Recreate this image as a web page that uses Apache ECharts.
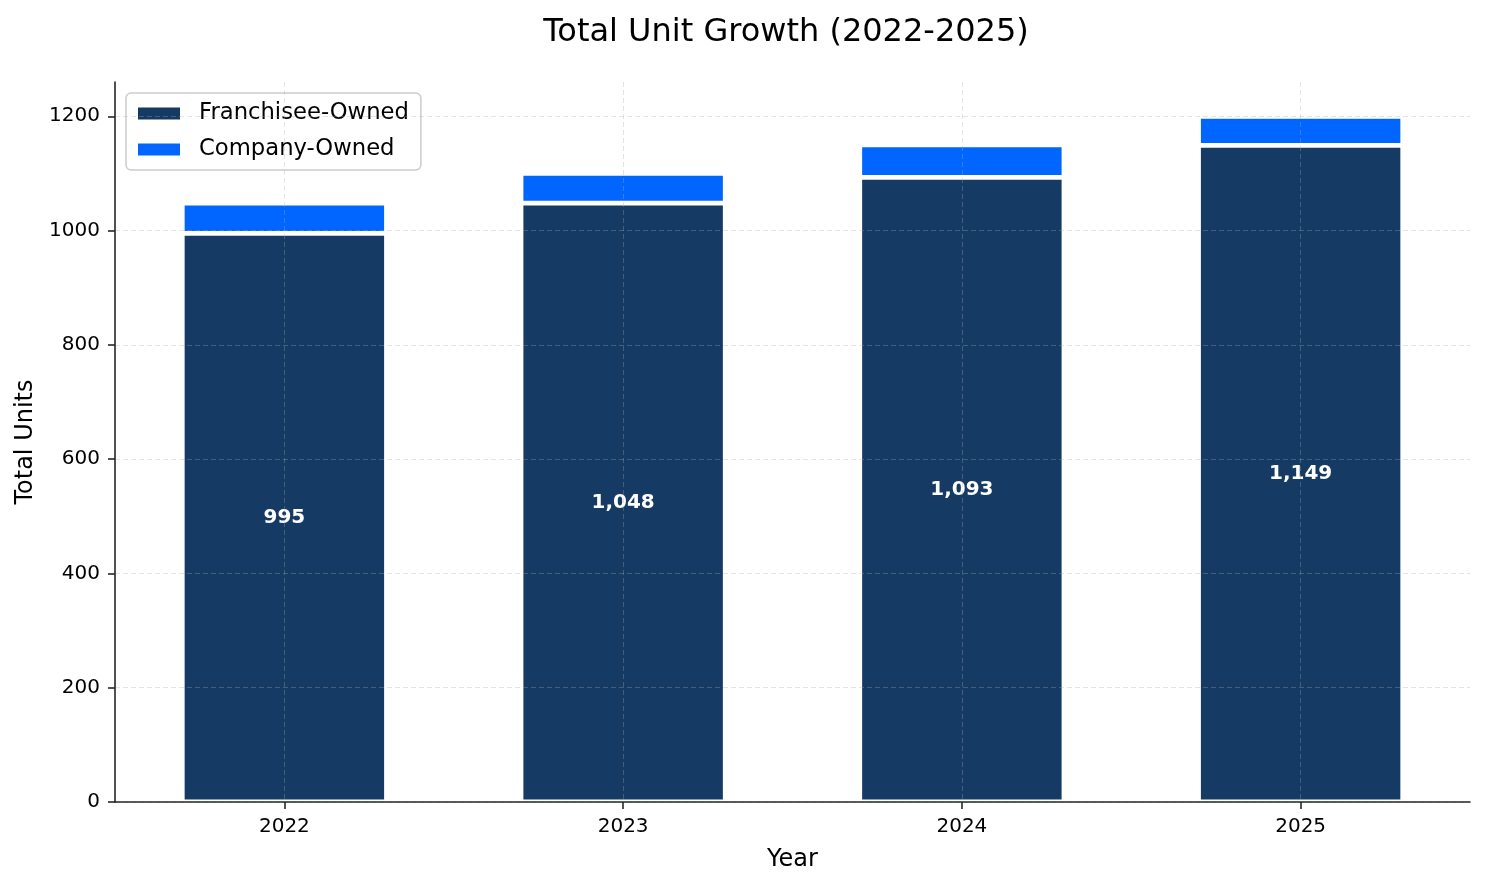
<!DOCTYPE html>
<html><head><meta charset="utf-8">
<script src="https://cdn.jsdelivr.net/npm/echarts@6/dist/echarts.min.js"></script>
<style>html,body{margin:0;padding:0;background:#fff}#c{width:1485px;height:884px}</style>
</head><body><div id="c"></div>
<script>
const years = ['2022', '2023', '2024', '2025'];
const franchiseeOwned = [995, 1048, 1093, 1149];
const companyOwned = [53, 52, 57, 51];
const yTickValues = [0, 200, 400, 600, 800, 1000, 1200];

const FONT = 'DejaVu Sans';
const gridColor = 'rgba(170,170,170,0.32)';
const axisColor = '#262626';

const chart = echarts.init(document.getElementById('c'), null, {renderer: 'canvas'});
chart.setOption({
  animation: false,
  backgroundColor: '#ffffff',
  title: {
    text: 'Total Unit Growth (2022-2025)',
    left: 781, top: 12, textAlign: 'center',
    textStyle: {fontFamily: FONT, fontSize: 32, fontWeight: 'normal', color: '#000'}
  },
  legend: {
    orient: 'vertical', left: 126, top: 93, icon: 'rect',
    padding: [9, 12, 9, 12],
    itemWidth: 42, itemHeight: 12, itemGap: 13,
    backgroundColor: 'rgba(255,255,255,0.8)',
    borderColor: '#cccccc', borderWidth: 1.5, borderRadius: 5,
    itemStyle: {borderWidth: 0},
    textStyle: {fontFamily: FONT, fontSize: 22.7, color: '#000', padding: [0, 0, 0, 14]},
    data: ['Franchisee-Owned', 'Company-Owned']
  },
  grid: {left: 115, right: 15, top: 82, bottom: 82, containLabel: false},
  xAxis: {
    type: 'category', data: years, z: 5,
    name: 'Year', nameLocation: 'middle', nameGap: 46,
    nameTextStyle: {fontFamily: FONT, fontSize: 24, color: '#000'},
    axisLine: {show: true, lineStyle: {color: axisColor, width: 1.6}},
    axisTick: {show: true, alignWithLabel: true, length: 7, lineStyle: {color: axisColor, width: 1.6}},
    axisLabel: {fontFamily: FONT, fontSize: 20, color: '#000', margin: 15},
    splitLine: {show: true, alignWithLabel: true, lineStyle: {color: gridColor, type: [5, 3], width: 1}}
  },
  yAxis: {
    type: 'value', min: 0, max: 1260, interval: 200, z: 5,
    name: 'Total Units', nameLocation: 'middle', nameGap: 73,
    nameTextStyle: {fontFamily: FONT, fontSize: 24, color: '#000'},
    axisLine: {show: true, lineStyle: {color: axisColor, width: 1.6}},
    axisTick: {show: true, length: 7, customValues: yTickValues, lineStyle: {color: axisColor, width: 1.6}},
    axisLabel: {fontFamily: FONT, fontSize: 20, color: '#000', margin: 15, customValues: yTickValues,
      formatter: v => String(v)},
    splitLine: {show: true, lineStyle: {color: [gridColor, gridColor, gridColor, gridColor, gridColor, gridColor, gridColor, 'rgba(0,0,0,0)'], type: [5, 3], width: 1}}
  },
  series: [
    {
      name: 'Franchisee-Owned', type: 'bar', stack: 'units', barWidth: '60.3%',
      data: franchiseeOwned,
      itemStyle: {color: '#153a63', borderColor: '#ffffff', borderWidth: 2.4},
      label: {
        show: true, position: 'inside', color: '#ffffff',
        fontFamily: FONT, fontSize: 20, fontWeight: 'bold',
        formatter: p => echarts.format.addCommas(p.value)
      }
    },
    {
      name: 'Company-Owned', type: 'bar', stack: 'units', barWidth: '60.3%',
      data: companyOwned,
      itemStyle: {color: '#0066ff', borderColor: '#ffffff', borderWidth: 2.4}
    }
  ]
});
</script></body></html>
